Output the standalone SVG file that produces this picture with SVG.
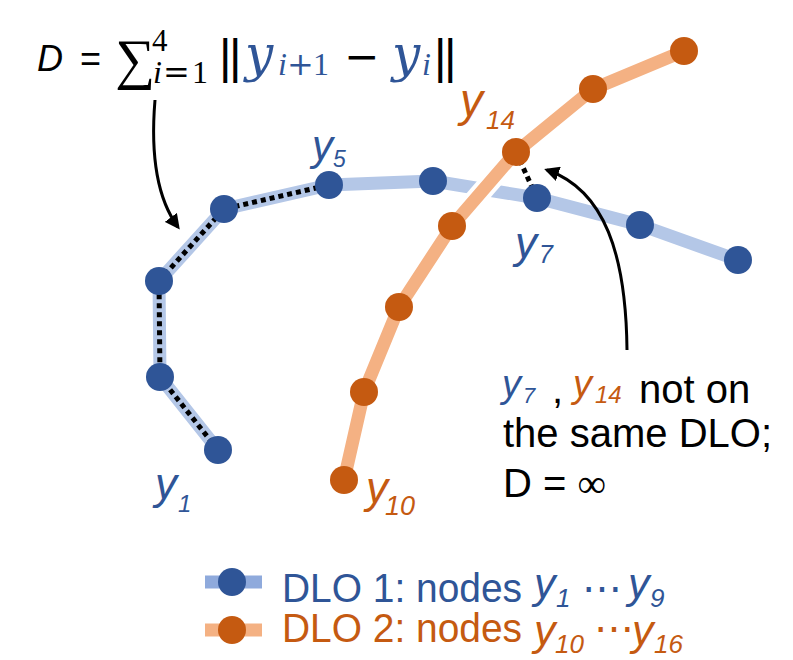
<svg xmlns="http://www.w3.org/2000/svg" width="793" height="660" viewBox="0 0 793 660">
<style>
.sans{font-family:"Liberation Sans",Arial,sans-serif}
.it{font-style:italic}
.ser{font-family:"Liberation Serif","Times New Roman",serif}
.dv{font-family:"DejaVu Serif",serif}
.blue{fill:#2F5597}
.or{fill:#C55A11}
.blk{fill:#000}
.bn{fill:#2F5597}
.on{fill:#C55A11}
.bl{fill:none;stroke:#B4C7E7;stroke-width:13;stroke-linejoin:round;stroke-linecap:butt}
.ol{fill:none;stroke:#F4B183;stroke-width:13;stroke-linejoin:round}
.halo{fill:none;stroke:#fff;stroke-width:21;stroke-linejoin:round}
.dot{fill:none;stroke:#000;stroke-width:5;stroke-dasharray:5 4}
.arr{fill:none;stroke:#000;stroke-width:3}
</style>
<defs>
<marker id="ah" viewBox="0 0 10 10" refX="8" refY="5" markerWidth="5" markerHeight="5" orient="auto" markerUnits="strokeWidth">
<path d="M0,0 L10,5 L0,10 z" fill="#000"/>
</marker>
</defs>
<rect width="793" height="660" fill="#fff"/>

<g id="connectors">
<path class="bl" d="M218,450 L160,377 L159,281 L224,209 L329,185 L433,181 L537,198 L640,225 L738,260"/>
<path class="dot" d="M218,450 L160,377 L159,281 L224,209 L329,185"/>
<path class="halo" d="M452,226 L516,152"/>
<path class="ol" d="M344,480 L364,392 L399,307 L452,226 L516,152 L593,89 L684,51"/>
<path class="dot" d="M516,152 L537,198"/>
<path class="arr" marker-end="url(#ah)" d="M155,100 C150,160 158,200 178,227"/>
<path class="arr" marker-end="url(#ah)" d="M627,350 C626,255 605,190 547,170"/>
</g>

<g id="dlo1">
<circle id="y1" class="bn" cx="218" cy="450" r="14"/>
<circle id="y2" class="bn" cx="160" cy="377" r="14"/>
<circle id="y3" class="bn" cx="159" cy="281" r="14"/>
<circle id="y4" class="bn" cx="224" cy="209" r="14"/>
<circle id="y5" class="bn" cx="329" cy="185" r="14"/>
<circle id="y6" class="bn" cx="433" cy="181" r="14"/>
<circle id="y7" class="bn" cx="537" cy="198" r="14"/>
<circle id="y8" class="bn" cx="640" cy="225" r="14"/>
<circle id="y9" class="bn" cx="738" cy="260" r="14"/>
</g>
<g id="dlo2">
<circle id="y10" class="on" cx="344" cy="480" r="14"/>
<circle id="y11" class="on" cx="364" cy="392" r="14"/>
<circle id="y12" class="on" cx="399" cy="307" r="14"/>
<circle id="y13" class="on" cx="452" cy="226" r="14"/>
<circle id="y14" class="on" cx="516" cy="152" r="14"/>
<circle id="y15" class="on" cx="593" cy="89" r="14"/>
<circle id="y16" class="on" cx="684" cy="51" r="14"/>
</g>

<g id="node-labels" class="sans it">
<text class="blue" x="155" y="499" font-size="44">y</text><text class="blue" x="178" y="512" font-size="24">1</text>
<text class="blue" x="312" y="160" font-size="42">y</text><text class="blue" x="333" y="167" font-size="23">5</text>
<text class="blue" x="515" y="258" font-size="44">y</text><text class="blue" x="539" y="263" font-size="25">7</text>
<text class="or" x="460" y="116" font-size="46">y</text><text class="or" x="486" y="129" font-size="26">14</text>
<text class="or" x="366" y="503" font-size="44">y</text><text class="or" x="385" y="515" font-size="27">10</text>
</g>

<g id="formula">
<text class="sans it blk" x="37" y="71" font-size="36">D</text>
<text class="sans blk" x="80" y="71" font-size="36">=</text>
<text class="ser blk" x="115" y="78" font-size="56">∑</text>
<text class="ser blk" x="152" y="51" font-size="31">4</text>
<text class="blk" font-size="32" y="83"><tspan class="ser it" x="153">i</tspan><tspan class="dv" x="163">=</tspan><tspan class="ser" x="192">1</tspan></text>
<text class="sans blk" font-size="48" y="73"><tspan x="219">|</tspan><tspan x="229">|</tspan></text>
<text class="dv it blue" x="245" y="71" font-size="50">y</text>
<text class="blue" font-size="32" y="75"><tspan class="ser it" x="278">i</tspan><tspan class="dv" x="287">+</tspan><tspan class="ser" x="313">1</tspan></text>
<text class="dv blk" x="344" y="71" font-size="42">−</text>
<text class="dv it blue" x="392" y="71" font-size="50">y</text>
<text class="ser it blue" x="422" y="75" font-size="32">i</text>
<text class="sans blk" font-size="48" y="73"><tspan x="434">|</tspan><tspan x="444">|</tspan></text>
</g>

<g id="note" class="sans" font-size="40">
<text class="blue it" x="502" y="397" font-size="38">y</text><text class="blue it" x="523" y="403" font-size="22">7</text>
<text class="blk" x="552" y="403">,</text>
<text class="or it" x="573" y="397" font-size="38">y</text><text class="or it" x="595" y="403" font-size="24">14</text>
<text class="blk" x="639" y="403">not on</text>
<text class="blk" x="503" y="447">the same DLO;</text>
<text class="blk" x="503" y="497">D = <tspan class="ser">∞</tspan></text>
</g>

<g id="legend" class="sans">
<g id="legend-dlo1">
<line x1="205" y1="582" x2="262" y2="582" stroke="#8FAADC" stroke-width="13"/>
<circle cx="232" cy="582" r="14" fill="#2F5597"/>
<text class="blue" x="282" y="602" font-size="40" textLength="240" lengthAdjust="spacingAndGlyphs">DLO 1: nodes</text>
<text class="blue it" x="534" y="598" font-size="43">y</text><text class="blue it" x="556" y="607" font-size="26">1</text>
<text class="blue" x="582" y="602" font-size="40">⋯</text>
<text class="blue it" x="628" y="598" font-size="43">y</text><text class="blue it" x="650" y="607" font-size="26">9</text>
</g>
<g id="legend-dlo2">
<line x1="205" y1="630" x2="262" y2="630" stroke="#F4B183" stroke-width="13"/>
<circle cx="232" cy="630" r="14" fill="#C55A11"/>
<text class="or" x="282" y="642" font-size="40" textLength="240" lengthAdjust="spacingAndGlyphs">DLO 2: nodes</text>
<text class="or it" x="534" y="645" font-size="43">y</text><text class="or it" x="555" y="653" font-size="26">10</text>
<text class="or" x="594" y="642" font-size="40">⋯</text>
<text class="or it" x="632" y="645" font-size="43">y</text><text class="or it" x="654" y="653" font-size="26">16</text>
</g>
</g>
</svg>
